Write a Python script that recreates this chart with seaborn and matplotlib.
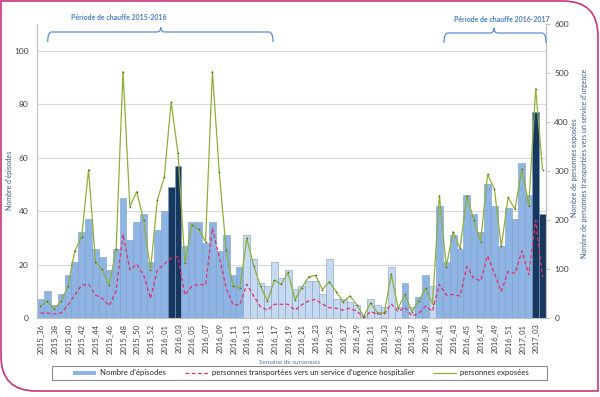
import numpy as np
import pandas as pd
import matplotlib
matplotlib.use("Agg")
import matplotlib.pyplot as plt
import seaborn as sns
from matplotlib.path import Path
from matplotlib.patches import PathPatch, Patch, Rectangle
from matplotlib.lines import Line2D

# ---------------- data ----------------
weeks = ([f"2015_{w:02d}" for w in range(36, 54)]
         + [f"2016_{w:02d}" for w in range(1, 53)]
         + [f"2017_{w:02d}" for w in range(1, 5)])

episodes = [7, 10, 5, 9, 16, 21, 32, 37, 26, 23, 18, 26, 45, 29, 36, 39, 21, 33,
            40, 49, 57, 27, 36, 36, 28, 36, 25, 31, 16, 19,
            31, 22, 13, 12, 21, 15, 18, 11, 12, 14, 14, 9, 22, 7, 7, 6, 5, 1, 7, 5,
            4, 19, 4, 13, 4, 8, 16, 12,
            42, 21, 31, 26, 46, 39, 32, 50, 42, 27, 41, 37, 58, 46, 77, 39]

exposed = [25, 34, 19, 34, 65, 137, 166, 303, 115, 99, 67, 140, 503, 227, 258, 200, 98, 241,
           287, 441, 336, 112, 190, 181, 156, 503, 297, 139, 65, 61,
           163, 107, 65, 34, 77, 69, 93, 37, 62, 84, 87, 58, 74, 54, 33, 45, 27, 3, 31, 11,
           10, 89, 20, 48, 13, 35, 61, 29,
           250, 105, 176, 142, 249, 200, 156, 293, 263, 146, 246, 222, 305, 229, 468, 303]

transported = [10, 10, 8, 10, 26, 47, 67, 69, 47, 40, 25, 55, 171, 98, 110, 88, 40, 98,
               110, 122, 125, 47, 65, 69, 67, 183, 125, 61, 27, 27,
               69, 45, 23, 16, 28, 28, 28, 16, 27, 35, 38, 28, 21, 20, 16, 20, 14, 1, 13, 8,
               8, 29, 13, 22, 4, 10, 24, 14,
               69, 47, 48, 45, 105, 81, 76, 127, 91, 54, 95, 91, 137, 88, 200, 83]

# bar category: heating season, outside heating season, highlighted weeks
peak_weeks = ["2016_02", "2016_03", "2017_03", "2017_04"]
off_weeks = [f"2016_{w:02d}" for w in range(13, 41)]
off_highlight = ["2016_36", "2016_38", "2016_39"]

legend_labels = ["Nombre d'épisodes",
                 "personnes transportées vers un service d'ugence hospitalier",
                 "personnes exposées"]

# ---------------- style ----------------
C_HEAT = "#8DB4E2"
C_OFF = "#C6D9F1"
C_PEAK = "#17375E"
C_GREEN = "#8FAF3C"
C_RED = "#E0306E"
C_TXT = "#404040"
C_BLUE_TXT = "#4A7EC2"
C_AXLBL = "#3F5C8C"

sns.set_style("white")
plt.rcParams["font.family"] = ["Lato", "DejaVu Sans"]

W, H = 600, 397
fig = plt.figure(figsize=(W / 100, H / 100), dpi=100)

def fx(x):
    return x / W

def fy(y):
    return 1 - y / H

ax = fig.add_axes([fx(37), fy(318), (546 - 37) / W, (318 - 24) / H])

colors = {}
for w in weeks:
    if w in peak_weeks:
        colors[w] = C_PEAK
    elif w in off_weeks and w not in off_highlight:
        colors[w] = C_OFF
    else:
        colors[w] = C_HEAT

df = pd.DataFrame({"week": weeks, "episodes": episodes,
                   "exposed": exposed, "transported": transported,
                   "pos": np.arange(len(weeks))})

sns.barplot(data=df, x="week", y="episodes", hue="week", palette=colors,
            dodge=False, width=1.0, legend=False, ax=ax,
            edgecolor="#7A9CC8", linewidth=0.4, saturation=1, zorder=2)

ax.set_ylim(0, 110)
ax.set_yticks(range(0, 101, 20))
ax.set_xlim(-0.5, len(weeks) - 0.5)
ax.yaxis.grid(True, color="#D9D9D9", linewidth=0.8, zorder=0)
ax.set_axisbelow(True)
ax.set_xticks(np.arange(0, len(weeks), 2))
ax.set_xticklabels(weeks[::2], rotation=90, fontsize=5.5, color=C_TXT)
ax.tick_params(axis="y", labelsize=6, colors=C_TXT, length=0, pad=6)
ax.tick_params(axis="x", length=2, width=0.5, color="#A6A6A6", pad=2)
ax.set_xlabel("")
ax.set_ylabel("")
ax.spines["top"].set_visible(False)
for s in ["left", "bottom", "right"]:
    ax.spines[s].set_color("#BFBFBF")
    ax.spines[s].set_linewidth(0.8)

ax2 = ax.twinx()
sns.lineplot(data=df, x="pos", y="exposed", ax=ax2, color=C_GREEN, linewidth=0.9,
             marker="o", markersize=1.2, markeredgewidth=0,
             markerfacecolor="#4E6B1A", zorder=4)
sns.lineplot(data=df, x="pos", y="transported", ax=ax2, color=C_RED, linewidth=0.9,
             linestyle=(0, (3, 2)), zorder=3)
ax2.set_ylim(0, 600)
ax2.set_yticks(range(0, 601, 100))
ax2.tick_params(axis="y", labelsize=6, labelcolor=C_TXT, color="#A6A6A6",
                length=3, width=0.5, pad=3)
ax2.set_xlabel("")
ax2.set_ylabel("")
ax2.set_xlim(-0.5, len(weeks) - 0.5)
for s in ["top", "left", "bottom"]:
    ax2.spines[s].set_visible(False)
ax2.spines["right"].set_color("#BFBFBF")
ax2.spines["right"].set_linewidth(0.8)

# axis labels
fig.text(fx(10), fy(180), "Nombre d'épisodes", rotation=90, fontsize=5,
         color=C_AXLBL, ha="center", va="center")
fig.text(fx(575), fy(168), "Nombre de personnes exposées", rotation=90, fontsize=5,
         color=C_AXLBL, ha="center", va="center")
fig.text(fx(584), fy(163), "Nombre de personnes transportées vers un service d'urgence",
         rotation=90, fontsize=5, color=C_AXLBL, ha="center", va="center")
fig.text(fx(290), fy(362), "Semaine de survenues", fontsize=4.5, color=C_BLUE_TXT,
         ha="center", va="center")

# heating period braces
def brace(x0, x1, xc, ytop, ybot, ycusp, r=4):
    verts = [(x0, ybot), (x0, ytop), (x0 + r, ytop),
             (xc - r, ytop), (xc, ytop), (xc, ycusp),
             (xc, ytop), (xc + r, ytop),
             (x1 - r, ytop), (x1, ytop), (x1, ybot)]
    codes = [Path.MOVETO, Path.CURVE3, Path.CURVE3,
             Path.LINETO, Path.CURVE3, Path.CURVE3,
             Path.CURVE3, Path.CURVE3,
             Path.LINETO, Path.CURVE3, Path.CURVE3]
    verts = [(fx(a), fy(b)) for a, b in verts]
    fig.add_artist(PathPatch(Path(verts, codes), transform=fig.transFigure,
                             fill=False, edgecolor="#5B8FD0", linewidth=0.9))

brace(47.7, 273, 160.7, 32, 42, 27)
brace(444, 546, 494, 33, 43, 28)
fig.text(fx(119), fy(17), "Période de chauffe 2015-2016", fontsize=5, color=C_BLUE_TXT,
         ha="center", va="center", fontweight="bold")
fig.text(fx(502), fy(19), "Période de chauffe 2016-2017", fontsize=5, color=C_BLUE_TXT,
         ha="center", va="center", fontweight="bold")

# legend
fig.add_artist(Rectangle((fx(52), fy(380)), (547 - 52) / W, 14 / H,
                         transform=fig.transFigure, fill=False,
                         edgecolor="#8C8C8C", linewidth=0.8))
handles = [Patch(facecolor=C_HEAT, edgecolor="none"),
           Line2D([], [], color=C_RED, linewidth=0.9, linestyle=(0, (3, 2))),
           Line2D([], [], color=C_GREEN, linewidth=0.9)]
fig.legend(handles, legend_labels, loc="center", bbox_to_anchor=(fx(301), fy(373)),
           ncol=3, frameon=False, fontsize=5.6, handlelength=3.0, handleheight=0.5,
           columnspacing=2.4, handletextpad=0.5, labelcolor="#262626")

# pink outer frame with two rounded corners
R = 35
pts = [(1, 1), (598 - R, 1), (598, 1), (598, 1 + R), (598, 391), (1 + R, 391),
       (1, 391), (1, 391 - R), (1, 1)]
codes = [Path.MOVETO, Path.LINETO, Path.CURVE3, Path.CURVE3, Path.LINETO, Path.LINETO,
         Path.CURVE3, Path.CURVE3, Path.CLOSEPOLY]
fig.add_artist(PathPatch(Path([(fx(a), fy(b)) for a, b in pts], codes),
                         transform=fig.transFigure, fill=False,
                         edgecolor="#C8357A", linewidth=1.2))

fig.savefig("out.png", dpi=100)
